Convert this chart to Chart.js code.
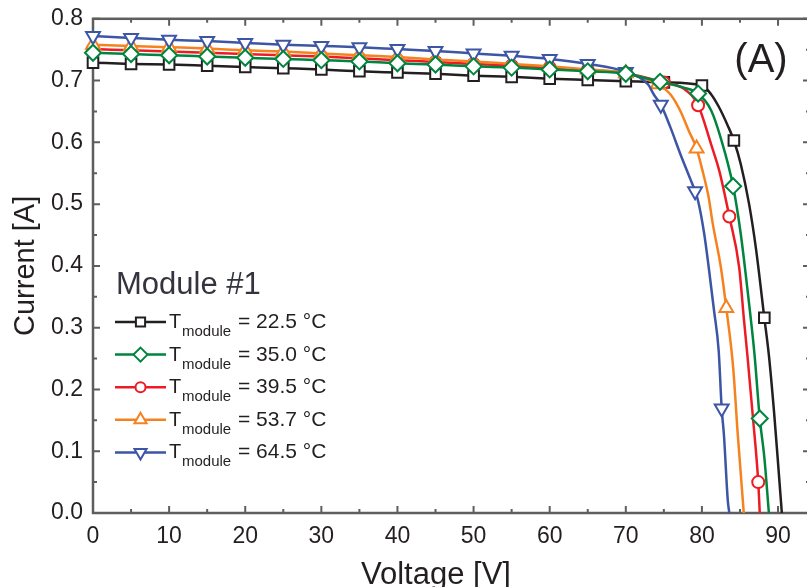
<!DOCTYPE html>
<html>
<head>
<meta charset="utf-8">
<title>Module #1</title>
<script src="https://cdn.jsdelivr.net/npm/chart.js@4.4.1/dist/chart.umd.min.js"></script>
<style>
    html, body { margin: 0; padding: 0; background: #fff; overflow: hidden; }
    #contenedor { width: 807px; height: 587px; overflow: hidden; position: relative; }
    canvas { display: block; margin-top: -5px; }
</style>
</head>
<body>
<div id="contenedor"><canvas id="graficoModulo" width="820" height="592"></canvas></div>
<script>
// Curvas I-V, modulo #1 (tension en V, corriente en A)
const volt22 = [0, 5, 10, 15, 20, 25, 30, 35, 40, 45, 50, 55, 60, 65, 70, 75, 80, 81.2, 82.2, 83.4, 84.2, 85.1, 86.2, 87.1, 88.2, 88.8, 89.5, 90.1, 90.5];
const curr22 = [0.729, 0.727, 0.726, 0.724, 0.722, 0.720, 0.718, 0.715, 0.713, 0.711, 0.708, 0.706, 0.703, 0.701, 0.699, 0.697, 0.692, 0.678, 0.658, 0.627, 0.603, 0.565, 0.500, 0.428, 0.316, 0.255, 0.160, 0.065, 0];
const marks22 = [0, 5, 10, 15, 20, 25, 30, 35, 40, 45, 50, 55, 60, 65, 70, 75, 80, 84.2, 88.2];

const volt35 = [0, 5, 10, 15, 20, 25, 30, 35, 40, 45, 50, 55, 60, 65, 70, 74.5, 77.5, 79.5, 81.2, 82.5, 84.1, 85.1, 86.0, 86.9, 87.6, 88.2, 88.8];
const curr35 = [0.745, 0.743, 0.741, 0.739, 0.737, 0.735, 0.733, 0.731, 0.728, 0.726, 0.723, 0.721, 0.718, 0.715, 0.711, 0.698, 0.689, 0.679, 0.652, 0.606, 0.529, 0.452, 0.360, 0.258, 0.153, 0.090, 0];
const marks35 = [0, 5, 10, 15, 20, 25, 30, 35, 40, 45, 50, 55, 60, 65, 70, 74.5, 79.5, 84.1, 87.6];

const volt39 = [0, 5, 10, 15, 20, 25, 30, 35, 40, 45, 50, 55, 60, 65, 70, 75, 77.6, 79.5, 81.2, 82.3, 83.6, 84.9, 85.5, 86.0, 86.7, 87.4, 87.6];
const curr39 = [0.751, 0.749, 0.747, 0.745, 0.743, 0.741, 0.739, 0.736, 0.733, 0.730, 0.727, 0.724, 0.721, 0.717, 0.712, 0.697, 0.687, 0.660, 0.597, 0.553, 0.480, 0.397, 0.316, 0.252, 0.155, 0.050, 0];
const marks39 = [0, 5, 10, 15, 20, 25, 30, 35, 40, 45, 50, 55, 60, 65, 70, 75, 79.5, 83.6, 87.4];

const volt53 = [0, 5, 10, 15, 20, 25, 30, 35, 40, 45, 50, 55, 60, 65, 70, 74.2, 75.9, 77.2, 78.3, 79.3, 80.1, 80.9, 81.4, 82.5, 83.2, 84.1, 84.7, 85.5];
const curr53 = [0.758, 0.756, 0.754, 0.752, 0.749, 0.747, 0.744, 0.741, 0.738, 0.734, 0.731, 0.727, 0.723, 0.718, 0.712, 0.694, 0.677, 0.650, 0.618, 0.590, 0.553, 0.510, 0.470, 0.397, 0.332, 0.236, 0.129, 0];
const marks53 = [0, 5, 10, 15, 20, 25, 30, 35, 40, 45, 50, 55, 60, 65, 70, 74.2, 79.3, 83.2];

const volt64 = [0, 5, 10, 15, 20, 25, 30, 35, 40, 45, 50, 55, 60, 65, 70, 72.9, 73.7, 74.6, 75.9, 77.2, 78.5, 79.1, 79.5, 80.3, 80.9, 81.6, 82.2, 82.6, 82.9, 83.4, 83.6];
const curr64 = [0.772, 0.769, 0.766, 0.764, 0.761, 0.758, 0.756, 0.754, 0.751, 0.748, 0.744, 0.740, 0.735, 0.727, 0.714, 0.694, 0.677, 0.661, 0.623, 0.580, 0.540, 0.521, 0.505, 0.452, 0.397, 0.327, 0.263, 0.169, 0.125, 0.020, 0];
const marks64 = [0, 5, 10, 15, 20, 25, 30, 35, 40, 45, 50, 55, 60, 65, 70, 74.6, 79.1, 82.6];

const tempsModulo = ['22.5', '35.0', '39.5', '53.7', '64.5'];
const ticksVoltaje = [0, 10, 20, 30, 40, 50, 60, 70, 80, 90];
const ticksCorriente = [0.0, 0.1, 0.2, 0.3, 0.4, 0.5, 0.6, 0.7, 0.8];

const FUENTE = "'Liberation Sans', Arial, Helvetica, sans-serif";
const TEXTO = '#231f20';
const MARCO = '#5e5e5e';
const DY = 5; // el canvas sube 5 px con margin-top

// orden de la lista = orden de dibujo (el primero queda encima)
const series = [
    { temp: tempsModulo[1], volt: volt35, curr: curr35, marks: marks35, color: '#00853f', estilo: 'rectRot', radio: 8, rot: 0 },
    { temp: tempsModulo[4], volt: volt64, curr: curr64, marks: marks64, color: '#3d55a5', estilo: 'triangle', radio: 8, rot: 180 },
    { temp: tempsModulo[3], volt: volt53, curr: curr53, marks: marks53, color: '#f5821f', estilo: 'triangle', radio: 8, rot: 0 },
    { temp: tempsModulo[2], volt: volt39, curr: curr39, marks: marks39, color: '#ed1c24', estilo: 'circle', radio: 6, rot: 0 },
    { temp: tempsModulo[0], volt: volt22, curr: curr22, marks: marks22, color: '#231f20', estilo: 'rect', radio: 7.5, rot: 0 }
];

function dibujarMarca(ctx, estilo, x, y, r, rot) {
    ctx.beginPath();
    if (estilo === 'circle') {
        ctx.arc(x, y, r, 0, Math.PI * 2);
    } else if (estilo === 'rect') {
        const s = r * Math.SQRT1_2;
        ctx.rect(x - s, y - s, 2 * s, 2 * s);
    } else if (estilo === 'rectRot') {
        ctx.moveTo(x, y - r);
        ctx.lineTo(x + r, y);
        ctx.lineTo(x, y + r);
        ctx.lineTo(x - r, y);
        ctx.closePath();
    } else if (estilo === 'triangle') {
        let a = rot * Math.PI / 180;
        ctx.moveTo(x + Math.sin(a) * r, y - Math.cos(a) * r);
        a += 2 * Math.PI / 3;
        ctx.lineTo(x + Math.sin(a) * r, y - Math.cos(a) * r);
        a += 2 * Math.PI / 3;
        ctx.lineTo(x + Math.sin(a) * r, y - Math.cos(a) * r);
        ctx.closePath();
    }
    ctx.fill();
    ctx.stroke();
}

// marco con marcas hacia dentro en los cuatro lados
const pluginMarco = {
    id: 'marco',
    beforeDatasetsDraw(chart) {
        const { ctx, chartArea: a, scales } = chart;
        ctx.save();
        ctx.strokeStyle = MARCO;
        ctx.lineWidth = 2.5;
        ctx.strokeRect(a.left, a.top, a.right - a.left, a.bottom - a.top);
        ctx.lineWidth = 2;
        ctx.beginPath();
        for (let v = 0; v <= 90; v += 5) {
            const px = scales.x.getPixelForValue(v);
            const largo = v % 10 === 0 ? 7 : 4;
            ctx.moveTo(px, a.bottom); ctx.lineTo(px, a.bottom - largo);
            ctx.moveTo(px, a.top); ctx.lineTo(px, a.top + largo);
        }
        for (let i = 0; i <= 16; i++) {
            const py = scales.y.getPixelForValue(i * 0.05);
            const largo = i % 2 === 0 ? 7 : 4;
            ctx.moveTo(a.left, py); ctx.lineTo(a.left + largo, py);
            ctx.moveTo(a.right, py); ctx.lineTo(a.right - largo, py);
        }
        ctx.stroke();
        ctx.restore();
    }
};

// leyenda "Module #1", etiqueta (A) y titulo del eje x
const pluginLeyenda = {
    id: 'leyenda',
    afterDatasetsDraw(chart) {
        const ctx = chart.ctx;
        ctx.save();
        ctx.translate(0, DY);
        ctx.textBaseline = 'alphabetic';
        ctx.textAlign = 'left';
        ctx.fillStyle = '#34343f';
        ctx.font = '31px ' + FUENTE;
        ctx.fillText('Module #1', 116, 294);

        const filas = [series[4], series[0], series[3], series[2], series[1]];
        filas.forEach((s, i) => {
            const y = 322 + i * 32.6;
            ctx.strokeStyle = s.color;
            ctx.lineWidth = 2.5;
            ctx.beginPath();
            ctx.moveTo(115, y);
            ctx.lineTo(166, y);
            ctx.stroke();
            ctx.fillStyle = '#fff';
            ctx.lineWidth = 2;
            dibujarMarca(ctx, s.estilo, 140.5, y, s.radio - 1, s.rot);

            ctx.fillStyle = TEXTO;
            ctx.font = '20px ' + FUENTE;
            ctx.fillText('T', 169, y + 6);
            ctx.font = '15px ' + FUENTE;
            ctx.fillText('module', 182, y + 14);
            ctx.font = '21px ' + FUENTE;
            ctx.fillText('= ' + s.temp + ' °C', 238, y + 6);
        });

        ctx.fillStyle = TEXTO;
        ctx.textAlign = 'center';
        ctx.font = '40px ' + FUENTE;
        ctx.fillText('(A)', 761, 72);

        ctx.font = '31px ' + FUENTE;
        ctx.fillText('Voltage [V]', 436, 584);
        ctx.restore();
    }
};

const datasets = series.map(s => ({
    label: 'T module = ' + s.temp + ' °C',
    data: s.volt.map((v, i) => ({ x: v, y: s.curr[i] })),
    borderColor: s.color,
    borderWidth: 2.5,
    cubicInterpolationMode: 'monotone',
    pointStyle: s.estilo,
    pointRotation: s.rot,
    pointRadius: ctx => (ctx.raw && s.marks.includes(ctx.raw.x)) ? s.radio : 0,
    pointHoverRadius: 0,
    pointBackgroundColor: '#ffffff',
    pointBorderColor: s.color,
    pointBorderWidth: 2,
    clip: false
}));

const ctx = document.getElementById('graficoModulo').getContext('2d');
new Chart(ctx, {
    type: 'line',
    data: { datasets: datasets },
    plugins: [pluginMarco, pluginLeyenda],
    options: {
        responsive: false,
        animation: false,
        devicePixelRatio: 1,
        layout: { padding: { left: 0, top: 13, right: 0, bottom: 0 } },
        plugins: { legend: { display: false }, tooltip: { enabled: false } },
        scales: {
            x: {
                type: 'linear',
                min: 0,
                max: 94.2,
                grid: { display: false, drawTicks: false },
                border: { display: false },
                afterBuildTicks: scale => { scale.ticks = ticksVoltaje.map(v => ({ value: v })); },
                afterFit: scale => { scale.height = 74; },
                ticks: {
                    color: TEXTO,
                    font: { family: FUENTE, size: 23 },
                    padding: 10,
                    maxRotation: 0,
                    autoSkip: false,
                    callback: v => String(v)
                }
            },
            y: {
                type: 'linear',
                min: 0,
                max: 0.8,
                grid: { display: false, drawTicks: false },
                border: { display: false },
                afterBuildTicks: scale => { scale.ticks = ticksCorriente.map(v => ({ value: v })); },
                afterFit: scale => { scale.width = 93; },
                ticks: {
                    color: TEXTO,
                    font: { family: FUENTE, size: 23 },
                    padding: 10,
                    autoSkip: false,
                    callback: v => Number(v).toFixed(1)
                },
                title: {
                    display: true,
                    text: 'Current [A]',
                    color: TEXTO,
                    font: { family: FUENTE, size: 29, lineHeight: 1 },
                    padding: { top: 11, bottom: 0 }
                }
            }
        }
    }
});
</script>
</body>
</html>
